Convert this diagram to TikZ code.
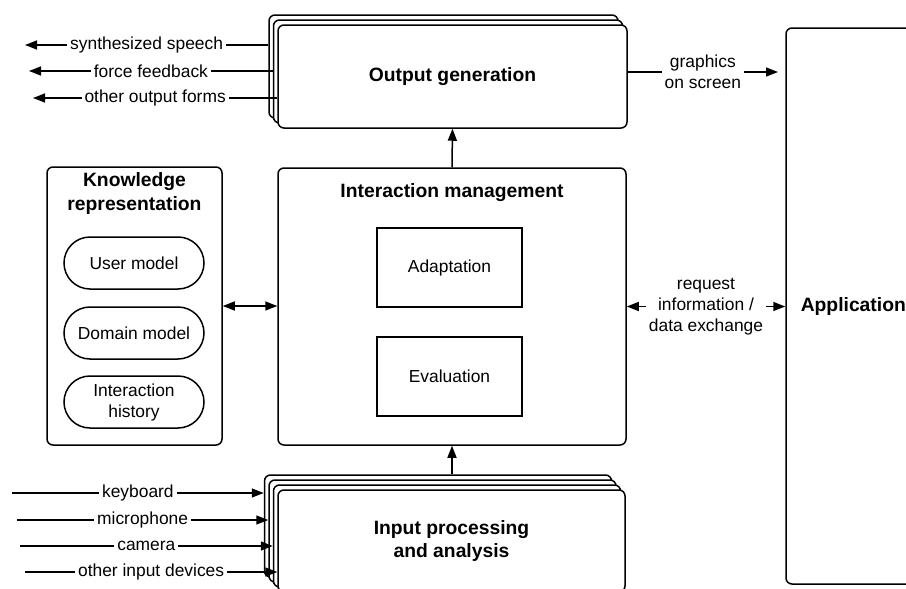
\documentclass[tikz,border=0pt]{standalone}
\usepackage{fontspec}
\setmainfont{Liberation Sans}
\usetikzlibrary{arrows.meta,shapes.misc}

\begin{document}
\begin{tikzpicture}[x=1pt,y=-1pt,
  line width=1.5pt,
  >={Triangle[length=12pt,width=9pt]},
  regular/.style={font=\fontsize{17.4}{21}\selectfont},
  heading/.style={font=\fontsize{19.3}{23.2}\selectfont\bfseries, align=center},
  panel/.style={draw, fill=white, rounded corners=6pt, inner sep=0pt},
  outlayer/.style={panel, minimum width=349pt, minimum height=103pt},
  inlayer/.style={panel, minimum width=347pt, minimum height=102pt},
  innerbox/.style={draw, rectangle, fill=white, minimum width=145pt, minimum height=79pt, regular},
  pill/.style={draw, rounded rectangle, minimum width=140pt, minimum height=52pt, regular, align=center, inner sep=0pt},
  tag/.style={fill=white, regular, inner sep=3pt, align=center},
]
\useasboundingbox (0,0) rectangle (906,589);
\clip (0,0) rectangle (906,589);

% output generation: three stacked sheets, back to front
\node[outlayer] (out3) at (443.5,66.5) {};
\node[outlayer] (out2) at (448,71.5) {};
\node[outlayer, heading] (outgen) at (452.5,76.5) {Output generation};

% input processing: four stacked sheets, back to front
\node[inlayer] (in4) at (438,526) {};
\node[inlayer] (in3) at (442.5,531) {};
\node[inlayer] (in2) at (447,536) {};
\node[inlayer, heading] (inpr) at (451.5,541) {Input processing\\and analysis};

% knowledge representation
\node[panel, minimum width=175pt, minimum height=278pt] (know) at (134.5,306) {};
\node[heading] (knowtitle) at (134.5,193.5) {Knowledge\\representation};
\node[pill] (user) at (134,263) {User model};
\node[pill] (domain) at (134,333) {Domain model};
\node[pill] (history) at (134,402) {Interaction\\history};

% interaction management
\node[panel, minimum width=348pt, minimum height=277pt] (inter) at (452,306.5) {};
\node[heading] (intertitle) at (452,193) {Interaction management};
\node[innerbox] (adapt) at (449.5,267.5) {Adaptation};
\node[innerbox] (eval) at (449.5,376.5) {Evaluation};

% application
\node[panel, minimum width=174pt, minimum height=556pt] (app) at (873,306) {};
\node[heading, anchor=west, inner sep=0pt] (apptitle) at (800,307) {Application};

% connections between the blocks
\draw[<->] (know.east) -- (know.east -| inter.west);
\draw[<->] (inter.east) -- (inter.east -| app.west)
  node[tag, midway] {request\\information /\\data exchange};
\draw[->] (inter.north) -- (outgen.south);
\draw[->] (inter.south |- in4.north) -- (inter.south);
\coordinate (gtip) at (778,72);
\draw[->] (gtip -| outgen.east) -- (gtip) node[tag, midway] {graphics\\on screen};

% output channels
\coordinate (o1) at (25,45);
\coordinate (o2) at (29,71);
\coordinate (o3) at (33,98);
\draw[->] (o1 -| out3.west) -- (o1) node[tag, midway] {synthesized speech};
\draw[->] (o2 -| out2.west) -- (o2) node[tag, midway] {force feedback};
\draw[->] (o3 -| outgen.west) -- (o3) node[tag, midway] {other output forms};

% input channels
\coordinate (i1) at (12,493);
\coordinate (i2) at (17,520);
\coordinate (i3) at (20,546);
\coordinate (i4) at (25,572);
\draw[->] (i1) -- (i1 -| in4.west) node[tag, midway] {keyboard};
\draw[->] (i2) -- (i2 -| in3.west) node[tag, midway] {microphone};
\draw[->] (i3) -- (i3 -| in2.west) node[tag, midway] {camera};
\draw[->] (i4) -- (i4 -| inpr.west) node[tag, midway] {other input devices};
\end{tikzpicture}
\end{document}
